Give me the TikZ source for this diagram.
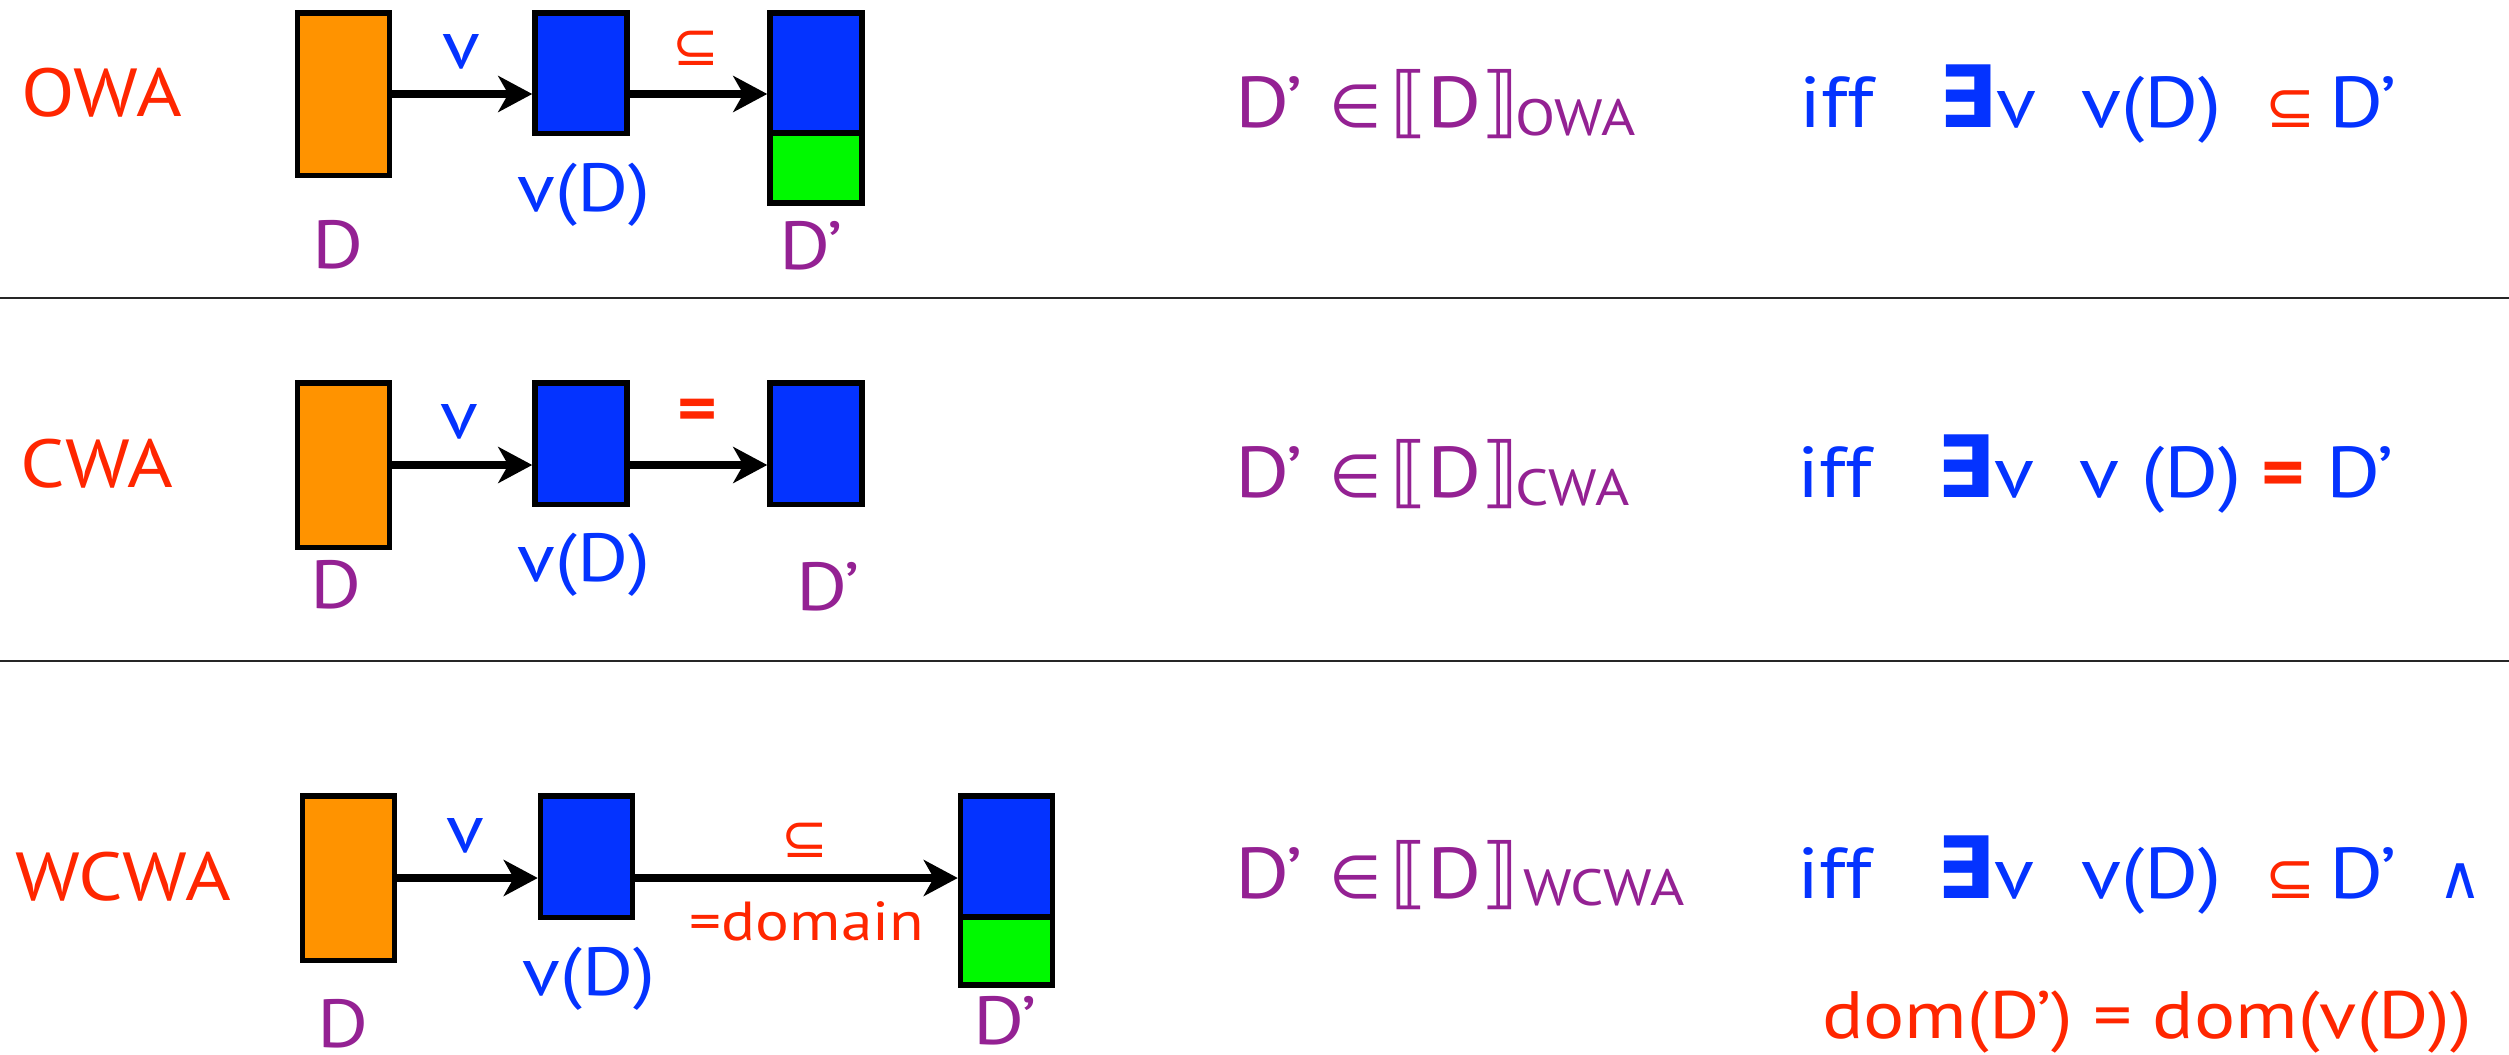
\documentclass[tikz,border=0pt]{standalone}
\usepackage{fontspec}
\usepackage{graphicx}
\setmainfont{PT Sans}[FakeStretch=1.15]
\newfontfamily\symf{DejaVu Sans}
\newfontfamily\symfb{DejaVu Sans Bold}
\usetikzlibrary{arrows.meta}
\definecolor{kred}{HTML}{FF2600}
\definecolor{kblue}{HTML}{0433FF}
\definecolor{kplum}{HTML}{942193}
\definecolor{korange}{HTML}{FF9300}
\definecolor{kgreen}{HTML}{00F900}
% semantic brackets, a little taller than the capitals
\newcommand{\lsem}{\raisebox{-1.5pt}{\scalebox{1.05}[1.08]{\symf ⟦}}}
\newcommand{\rsem}{\raisebox{-1.5pt}{\scalebox{1.05}[1.08]{\symf ⟧}}}
\newcommand{\exs}{{\symfb\fontsize{86}{90}\selectfont ∃}}
\begin{document}
\begin{tikzpicture}[x=1pt,y=-1pt,
  box/.style={draw=black, line width=5.5pt, inner sep=0pt, minimum width=92pt},
  arr/.style={line width=8pt, -{Stealth[length=34pt,width=36pt,inset=10pt]}},
  lbl/.style={font=\fontsize{68}{72}\selectfont, inner sep=0pt},
  sym/.style={font=\symf\fontsize{56}{60}\selectfont, inner sep=0pt},
  frm/.style={font=\fontsize{72}{76}\selectfont, inner sep=0pt, anchor=base west},
  fsym/.style={font=\symf\fontsize{60}{64}\selectfont, inner sep=0pt, anchor=base west},
  sub/.style={font=\fontsize{51}{54}\selectfont, inner sep=0pt, anchor=base west, kplum},
  rule/.style={line width=2pt, black!85}]
\useasboundingbox (0,0) rectangle (2509,1055);

% ---------- OWA ----------
\node[lbl, kred] (t1) at (102,93) {OWA};
\node[box, fill=korange, minimum height=162.5pt] (d1) at (343.5,94) {};
\node[box, fill=kblue, minimum height=120.5pt] (v1) at (581,73) {};
\node[box, fill=kblue, minimum height=120.5pt] (p1a) at (816,73) {};
\node[box, fill=kgreen, minimum height=70pt] (p1b) at (816,168) {};
\draw[arr] (d1.east) -- (d1.east -| v1.west);
\draw[arr] (v1.east |- d1.east) -- (d1.east -| p1a.west);
\node[lbl, kblue] (l1v) at (461,52) {v};
\node[sym, kred] (l1s) at (696,48) {⊆};
\node[lbl, kplum] (n1d) at (338,245) {D};
\node[lbl, kblue] (n1v) at (584,195) {v(D)};
\node[lbl, kplum] (n1p) at (811,246) {D’};

\node[frm, kplum] (f1a) at (1235,127) {D’};
\node[fsym, kplum] (f1b) at (1329,127) {∈};
\node[frm, kplum] (f1c) at (1390,127) {\lsem D\rsem};
\node[sub] (f1d) at (1515,135) {OWA};
\node[frm, kblue] (f1e) at (1799,127) {iff};
\node[frm, kblue] (f1f) at (1938,127) {\exs v};
\node[frm, kblue] (f1g) at (2081,127) {v(D)};
\node[fsym, kred] (f1h) at (2265,127) {⊆};
\node[frm, kblue] (f1i) at (2329,127) {D’};

\draw[rule] (0,298) -- (2509,298);

% ---------- CWA ----------
\node[lbl, kred] (t2) at (97,464) {CWA};
\node[box, fill=korange, minimum height=164.5pt] (d2) at (343.5,465) {};
\node[box, fill=kblue, minimum height=121.5pt] (v2) at (581,443.5) {};
\node[box, fill=kblue, minimum height=121.5pt] (p2) at (816,443.5) {};
\draw[arr] (d2.east) -- (d2.east -| v2.west);
\draw[arr] (v2.east |- d2.east) -- (d2.east -| p2.west);
\node[lbl, kblue] (l2v) at (459,422) {v};
\node[lbl, kred, font=\bfseries\fontsize{66}{70}\selectfont] (l2e) at (697,415) {=};
\node[lbl, kplum] (n2d) at (336,585) {D};
\node[lbl, kblue] (n2v) at (584,565) {v(D)};
\node[lbl, kplum] (n2p) at (828,587) {D’};

\node[frm, kplum] (f2a) at (1235,497) {D’};
\node[fsym, kplum] (f2b) at (1329,497) {∈};
\node[frm, kplum] (f2c) at (1390,497) {\lsem D\rsem};
\node[sub] (f2d) at (1515,505) {CWA};
\node[frm, kblue] (f2e) at (1797,497) {iff};
\node[frm, kblue] (f2f) at (1936,497) {\exs v};
\node[frm, kblue] (f2g) at (2079,497) {v (D)};
\node[frm, kred, font=\bfseries\fontsize{72}{76}\selectfont] (f2h) at (2261,497) {=};
\node[frm, kblue] (f2i) at (2326,497) {D’};

\draw[rule] (0,661) -- (2509,661);

% ---------- WCWA ----------
\node[lbl, kred] (t3) at (123,877) {WCWA};
\node[box, fill=korange, minimum height=164.5pt] (d3) at (348.5,878) {};
\node[box, fill=kblue, minimum height=121.5pt] (v3) at (586.5,856.5) {};
\node[box, fill=kblue, minimum height=121pt] (p3a) at (1006.5,856.5) {};
\node[box, fill=kgreen, minimum height=68pt] (p3b) at (1006.5,951) {};
\draw[arr] (d3.east) -- (d3.east -| v3.west);
\draw[arr] (v3.east |- d3.east) -- (d3.east -| p3a.west);
\node[lbl, kblue] (l3v) at (465,836) {v};
\node[sym, kred] (l3s) at (805,840) {⊆};
\node[lbl, kred, font=\fontsize{55}{60}\selectfont] (l3d) at (807,921) {=domain};
\node[lbl, kplum] (n3d) at (343,1024) {D};
\node[lbl, kblue] (n3v) at (589,979) {v(D)};
\node[lbl, kplum] (n3p) at (1005,1021) {D’};

\node[frm, kplum] (f3a) at (1235,898) {D’};
\node[fsym, kplum] (f3b) at (1329,898) {∈};
\node[frm, kplum] (f3c) at (1390,898) {\lsem D\rsem};
\node[sub] (f3d) at (1523,905) {WCWA};
\node[frm, kblue] (f3e) at (1797,898) {iff};
\node[frm, kblue] (f3f) at (1936,898) {\exs v};
\node[frm, kblue] (f3g) at (2081,898) {v(D)};
\node[fsym, kred] (f3h) at (2265,898) {⊆};
\node[frm, kblue] (f3i) at (2329,898) {D’};
\node[fsym, kblue] (f3j) at (2438,898) {∧};
\node[frm, kred, font=\fontsize{67}{70}\selectfont] (f3k) at (1822,1038) {dom(D’) = dom(v(D))};
\end{tikzpicture}
\end{document}
